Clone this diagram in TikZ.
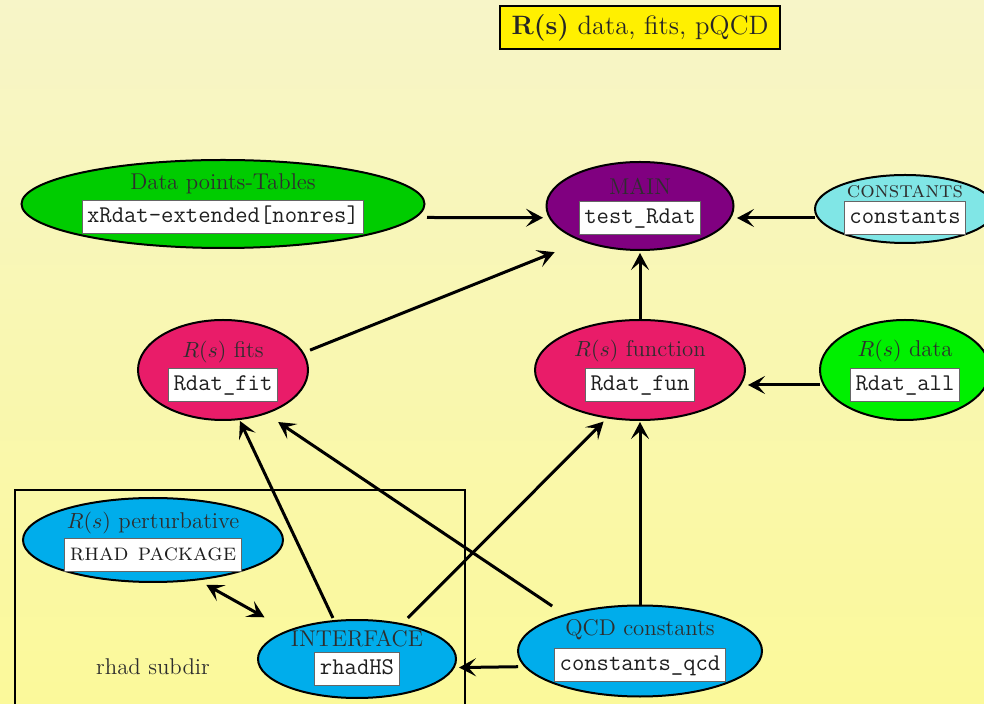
\documentclass[tikz,border=0pt]{standalone}
\usetikzlibrary{shapes.geometric,arrows.meta}
\definecolor{bgtop}{HTML}{F7F5C8}
\definecolor{bgbot}{HTML}{FBF99A}
\definecolor{titleyel}{HTML}{FFF000}
\definecolor{tabgreen}{HTML}{00CC00}
\definecolor{mainpurple}{HTML}{800080}
\definecolor{constcyan}{HTML}{80E6E6}
\definecolor{rcrimson}{HTML}{E91C69}
\definecolor{datagreen}{HTML}{00F000}
\definecolor{rblue}{HTML}{00ADEB}
\begin{document}
\begin{tikzpicture}[x=0.5pt,y=-0.5pt,
  ell/.style={ellipse, draw=black, line width=1pt, inner sep=0pt},
  lbl/.style={text=black!82, font=\fontsize{11.4}{13}\selectfont, inner sep=0pt, text height=8pt, text depth=2.3pt},
  code/.style={draw=black!60, line width=0.5pt, fill=white, text=black!88,
    font=\fontsize{12}{14}\selectfont\ttfamily, inner xsep=2.5pt, inner ysep=2.5pt,
    text height=8.4pt, text depth=3pt},
  scbox/.style={code, font=\fontsize{12}{14}\selectfont\rmfamily\scshape},
  conn/.style={line width=1.5pt, -{Stealth[length=8.5pt,width=9pt,inset=3.8pt]}},
  dconn/.style={line width=1.5pt, {Stealth[length=8.5pt,width=9pt,inset=3.8pt]}-{Stealth[length=8.5pt,width=9pt,inset=3.8pt]}}
]
\useasboundingbox (0,0) rectangle (984,704);
\clip (0,0) rectangle (984,704);
\fill[top color=bgtop, bottom color=bgbot] (0,0) rectangle (984,704);

% title
\node[draw=black, line width=1pt, fill=titleyel, text=black!85, minimum width=140pt, minimum height=21.5pt, inner sep=0pt,
  font=\fontsize{13.3}{15}\selectfont] (title) at (640,28) {\textbf{R(s)} data, fits, pQCD};

% rhad subdir frame
\draw[line width=0.8pt] (15,710) |- (465,490) -- (465,710);
\node[lbl] (subdir) at (153,669) {rhad subdir};

% ellipses
\node[ell, fill=tabgreen, minimum width=201.5pt, minimum height=44pt] (tab) at (223,204) {};
\node[ell, fill=mainpurple, minimum width=93.5pt, minimum height=44pt] (main) at (640,206) {};
\node[ell, fill=constcyan, minimum width=90pt, minimum height=34pt] (const) at (905,209) {};
\node[ell, fill=rcrimson, minimum width=85pt, minimum height=50pt] (fits) at (223,370) {};
\node[ell, fill=rcrimson, minimum width=105pt, minimum height=50pt] (fun) at (640,370) {};
\node[ell, fill=datagreen, minimum width=85pt, minimum height=50pt] (data) at (905,370) {};
\node[ell, fill=rblue, minimum width=130pt, minimum height=42pt] (pert) at (153,540) {};
\node[ell, fill=rblue, minimum width=99pt, minimum height=39pt] (int) at (357,659) {};
\node[ell, fill=rblue, minimum width=122pt, minimum height=45.5pt] (qcd) at (640,651) {};

% labels
\node[lbl] (tabL) at (223,184) {Data points-Tables};
\node[code] (tabB) at (223,217) {xRdat-extended[nonres]};
\node[lbl] (mainL) at (640,189) {MAIN};
\node[code] (mainB) at (640,218) {test\_Rdat};
\node[lbl] (constL) at (905,192) {\textsc{constants}};
\node[code] (constB) at (905,218) {constants};
\node[lbl] (fitsL) at (223,352) {$R(s)$ fits};
\node[code] (fitsB) at (223,385) {Rdat\_fit};
\node[lbl] (funL) at (640,351) {$R(s)$ function};
\node[code] (funB) at (640,385) {Rdat\_fun};
\node[lbl] (dataL) at (905,351) {$R(s)$ data};
\node[code] (dataB) at (905,385) {Rdat\_all};
\node[lbl] (pertL) at (153,523) {$R(s)$ perturbative};
\node[scbox] (pertB) at (153,555) {rhad package};
\node[lbl] (intL) at (357,641) {INTERFACE};
\node[code] (intB) at (357,669) {rhadHS};
\node[lbl] (qcdL) at (640,630) {QCD constants};
\node[code] (qcdB) at (640,665) {constants\_qcd};

% connectors
\draw[conn, shorten <=102pt, shorten >=48.5pt] (tabB.center) -- (mainB.center);
\draw[conn, shorten <=45pt, shorten >=48.5pt] (constB.center) -- (mainB.center);
\draw[conn, shorten <=46.9pt, shorten >=46pt] (fitsB.center) -- (mainB.center);
\draw[conn, shorten <=32.5pt, shorten >=17.5pt] (funB.center) -- (mainB.center);
\draw[conn, shorten <=42.5pt, shorten >=54pt] (dataB.center) -- (funB.center);
\draw[conn, shorten <=28.2pt, shorten >=19.9pt] (intB.center) -- (fitsB.center);
\draw[conn, shorten <=52.9pt, shorten >=33.2pt] (qcdB.center) -- (fitsB.center);
\draw[conn, shorten <=36pt, shorten >=25.8pt] (intB.center) -- (funB.center);
\draw[conn, shorten <=30pt, shorten >=18.5pt] (qcdB.center) -- (funB.center);
\draw[conn, shorten <=61pt, shorten >=51pt] (qcdB.center) -- (intB.center);
\draw[dconn, shorten <=30.5pt, shorten >=53pt] (pertB.center) -- (intB.center);
\end{tikzpicture}
\end{document}
